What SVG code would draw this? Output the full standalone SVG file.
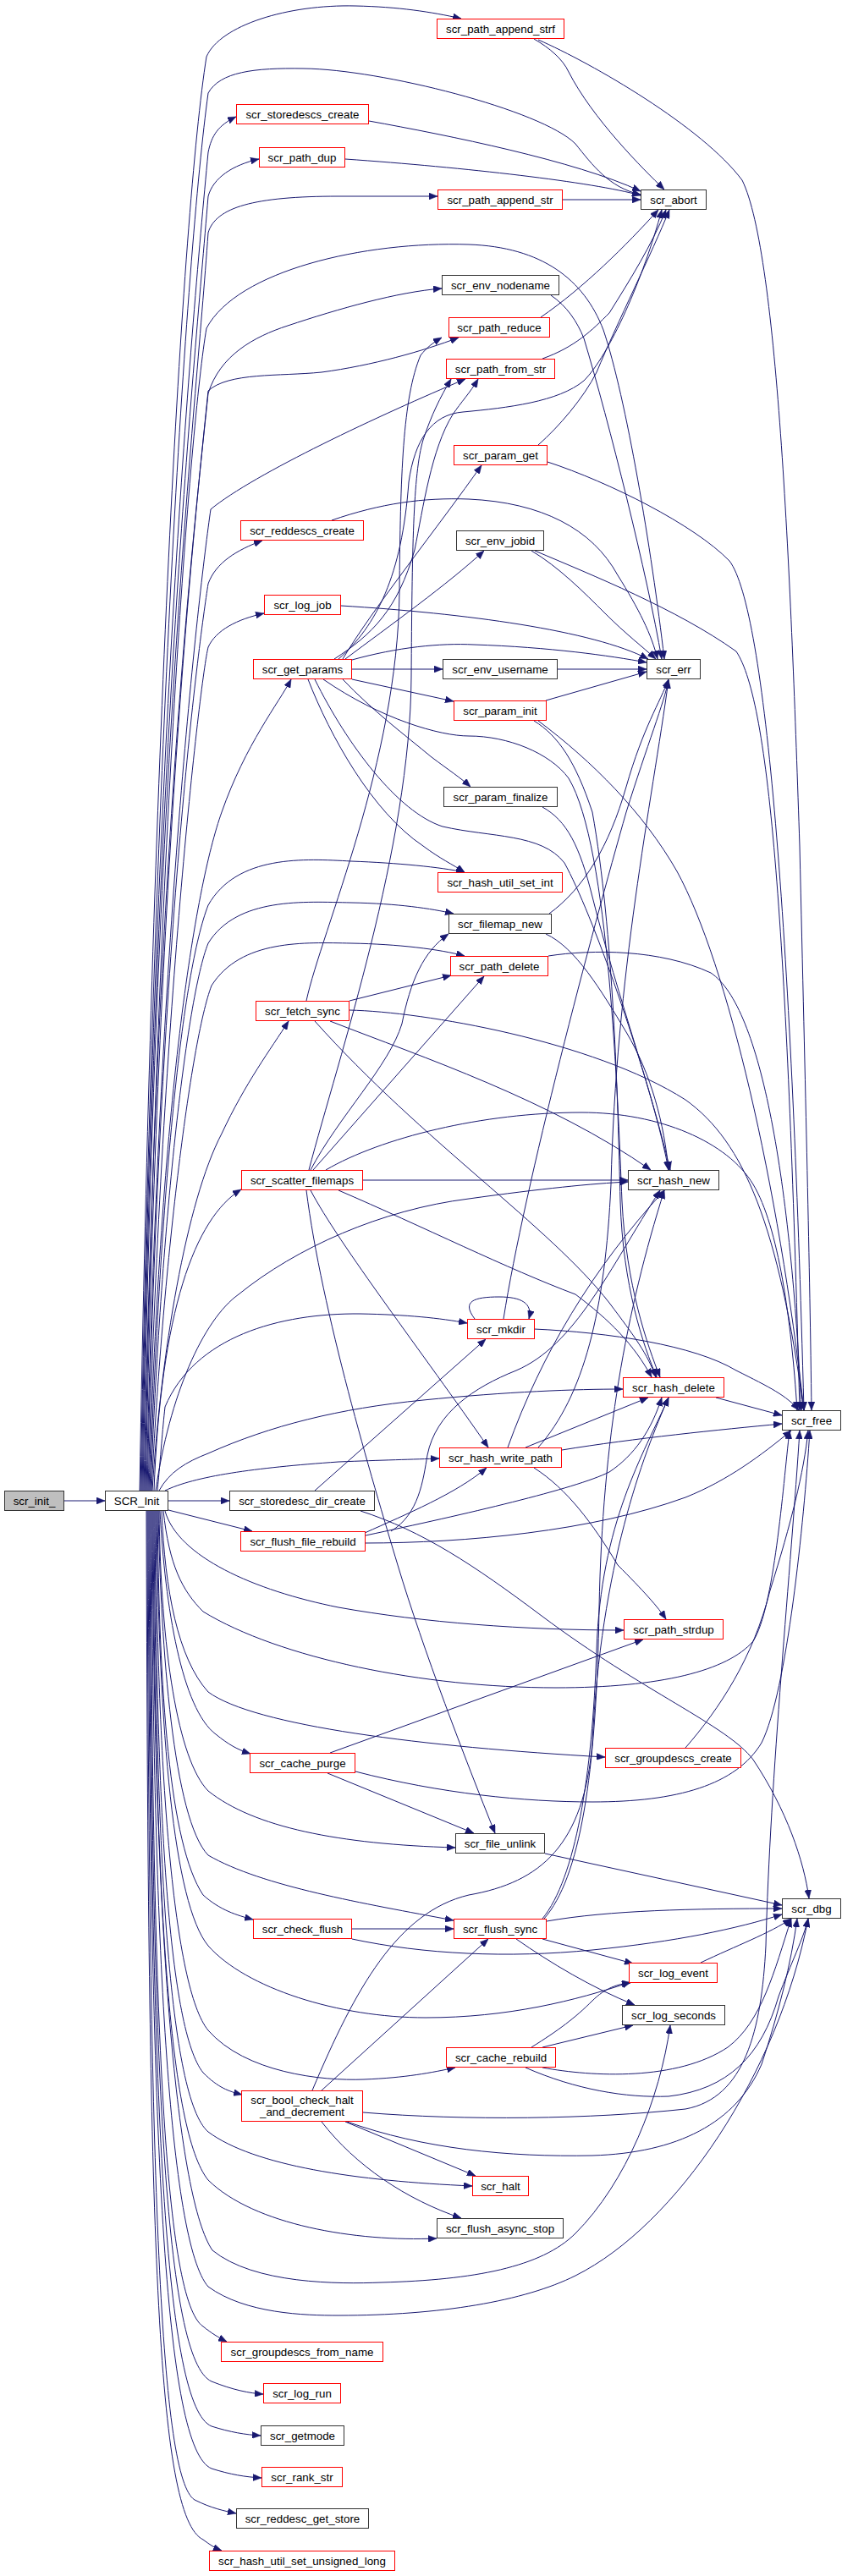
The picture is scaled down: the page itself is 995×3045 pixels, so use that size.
<svg xmlns="http://www.w3.org/2000/svg" width="995" height="3045" viewBox="0 0 995 3045">
<style>
.n rect{fill:#fff;stroke-width:1}
.r rect{stroke:#ff0000}
.b rect{stroke:#333}
.g rect{fill:#bfbfbf;stroke:#333}
text{font-family:"Liberation Sans",Arial,sans-serif;font-size:13.33px;text-anchor:middle;fill:#000}
#edges path{fill:none;stroke:#191970;stroke-width:1;marker-end:url(#a)}
</style>
<defs>
<marker id="a" markerWidth="10" markerHeight="8" refX="10" refY="4" orient="auto" markerUnits="userSpaceOnUse"><path d="M0,0 L10,4 L0,8 z" fill="#191970" stroke="#191970" stroke-width="0.5"/></marker>
</defs>
<rect width="995" height="3045" fill="#fff"/>
<g id="edges">
<path d="M76,1774 L124,1774"/>
<path d="M165,1762 C180,900 215,250 244,67 C260,30 340,5 420,7 C470,8 510,14 545,22"/>
<path d="M166,1762 C182,900 220,300 246,110 C260,85 300,80 359,81 C450,82 640,130 680,170 C700,195 720,222 757,230"/>
<path d="M167,1762 C182,900 225,400 246,180 C250,160 258,148 279,138"/>
<path d="M168,1762 C183,900 228,450 246,232 C252,210 275,195 306,188"/>
<path d="M169,1762 C184,900 230,500 246,275 C255,245 300,232 400,232 L517,232"/>
<path d="M170,1762 C185,1000 232,600 246,465 C260,420 300,398 340,385 C400,365 470,345 522,341"/>
<path d="M171,1762 C186,1000 225,500 244,388 C280,320 430,285 554,289 C640,292 690,330 713,390 C740,470 770,650 785,779"/>
<path d="M172,1762 C187,1000 232,600 246,462 C270,440 330,445 380,440 C440,432 500,415 542,399"/>
<path d="M173,1762 C188,1100 235,700 249,602 C300,560 450,490 550,448"/>
<path d="M174,1762 C189,1100 235,760 246,690 C255,665 280,650 310,639"/>
<path d="M175,1762 C190,1200 237,800 246,765 C255,745 280,732 312,725"/>
<path d="M176,1762 C190,1300 230,1050 262,960 C290,880 330,830 344,803"/>
<path d="M177,1762 C190,1400 215,1150 246,1070 C280,1010 360,1015 415,1018 C470,1020 520,1025 549,1031"/>
<path d="M178,1762 C190,1450 220,1180 246,1115 C280,1060 360,1066 415,1067 C470,1068 510,1074 536,1080"/>
<path d="M179,1762 C192,1500 225,1230 250,1165 C285,1110 360,1114 415,1115 C470,1116 520,1122 549,1130"/>
<path d="M180,1762 C190,1600 220,1420 262,1340 C290,1280 320,1240 341,1207"/>
<path d="M182,1762 C190,1550 230,1440 285,1406"/>
<path d="M184,1762 C200,1650 240,1560 282,1530 C350,1475 450,1430 554,1417 C640,1405 700,1399 742,1397"/>
<path d="M186,1762 C190,1720 192,1690 195,1663 C230,1580 330,1552 426,1553 C480,1554 520,1558 552,1564"/>
<path d="M188,1762 C200,1740 220,1728 246,1718 C320,1685 400,1665 500,1655 C600,1645 680,1642 736,1642"/>
<path d="M195,1762 C230,1745 300,1735 400,1728 C450,1726 490,1725 519,1724"/>
<path d="M199,1774 L271,1774"/>
<path d="M199,1785 L298,1810"/>
<path d="M195,1786 C210,1840 300,1880 400,1900 C500,1918 620,1927 737,1927"/>
<path d="M193,1786 C200,1850 215,1880 240,1905 C330,1960 500,1995 657,1995 C780,1995 860,1975 890,1940 C915,1900 925,1760 933,1691"/>
<path d="M191,1786 C195,1880 210,1960 246,2000 C300,2040 500,2065 715,2077"/>
<path d="M189,1786 C195,1900 215,2020 255,2050 C270,2062 280,2068 296,2073"/>
<path d="M188,1786 C190,1950 210,2080 246,2117 C300,2160 400,2180 538,2184"/>
<path d="M187,1786 C190,1950 205,2150 246,2193 C310,2230 430,2250 536,2270"/>
<path d="M186,1786 C188,2000 200,2180 240,2240 C260,2258 280,2264 299,2269"/>
<path d="M185,1786 C188,2050 205,2250 246,2300 C290,2350 400,2385 503,2385 C600,2385 680,2365 745,2343"/>
<path d="M184,1786 C186,2100 205,2350 246,2400 C290,2450 380,2460 430,2458 C480,2456 510,2450 538,2444"/>
<path d="M183,1786 C185,2150 200,2400 240,2450 C258,2468 270,2472 286,2476"/>
<path d="M182,1786 C184,2200 200,2480 246,2520 C300,2560 420,2578 558,2584"/>
<path d="M181,1786 C183,2250 200,2520 246,2577 C300,2630 420,2650 516,2646"/>
<path d="M180,1786 C182,2300 210,2600 251,2660 C300,2700 400,2700 451,2698 C560,2695 640,2680 680,2640 C740,2580 780,2480 792,2394"/>
<path d="M179,1786 C181,2300 200,2650 246,2703 C290,2735 360,2737 400,2737 C520,2737 620,2720 680,2690 C800,2630 920,2450 955,2268"/>
<path d="M178,1786 C180,2400 195,2720 240,2750 C250,2758 258,2763 268,2768"/>
<path d="M177,1786 C179,2450 195,2790 250,2815 C275,2825 295,2829 311,2830"/>
<path d="M176,1786 C178,2500 195,2845 250,2868 C272,2875 290,2878 308,2879"/>
<path d="M175,1786 C177,2550 195,2895 250,2918 C272,2925 290,2928 309,2929"/>
<path d="M174,1786 C176,2600 190,2930 230,2955 C250,2965 265,2968 279,2971"/>
<path d="M173,1786 C175,2650 185,2975 240,3002 C248,3008 254,3012 262,3015"/>
<path d="M631,46 C650,57 665,70 672,85 C700,140 760,200 785,224"/>
<path d="M636,47 C700,75 830,150 877,213 C920,300 935,700 945,1000 C952,1300 957,1500 959,1667"/>
<path d="M436,143 C530,160 680,190 757,226"/>
<path d="M408,188 C550,198 700,215 757,231"/>
<path d="M665,236 L757,236"/>
<path d="M639,375 C690,340 740,290 778,248"/>
<path d="M641,424 C680,410 700,390 720,370 C745,330 770,290 787,248"/>
<path d="M636,526 C660,505 690,470 705,440 C730,380 770,300 791,248"/>
<path d="M651,349 C670,362 682,380 690,400 C720,500 765,680 782,779"/>
<path d="M392,615 C450,595 500,588 554,590 C640,594 700,625 730,680 C755,720 770,750 777,779"/>
<path d="M628,651 C660,670 690,700 715,725 C740,750 760,765 775,779"/>
<path d="M632,651 C700,680 800,720 870,770 C910,830 930,1100 945,1667"/>
<path d="M647,546 C720,570 820,620 862,663 C905,720 935,1100 950,1667"/>
<path d="M403,716 C550,725 700,745 766,779"/>
<path d="M416,780 C470,765 520,760 560,762 C650,765 720,775 764,783"/>
<path d="M416,791 L523,791"/>
<path d="M659,791 L764,791"/>
<path d="M416,803 L536,829"/>
<path d="M645,828 L764,794"/>
<path d="M405,803 C440,840 480,870 510,895 C530,910 545,920 556,930"/>
<path d="M364,803 C390,870 440,960 500,1000 C520,1015 535,1022 549,1031"/>
<path d="M372,803 C410,880 470,960 523,977 C580,990 640,985 667,1020 C700,1080 760,1250 792,1383"/>
<path d="M382,803 C450,850 520,870 554,870 C600,870 650,890 672,920 C720,1000 730,1300 735,1420 C740,1520 765,1590 780,1628"/>
<path d="M405,779 C440,720 520,620 569,550"/>
<path d="M408,779 C460,740 530,690 572,651"/>
<path d="M395,779 C440,750 470,720 490,650 C500,600 510,530 535,490 C545,475 555,465 565,448"/>
<path d="M400,779 C445,740 475,680 483,570 C490,520 510,490 547,487 C600,482 660,475 690,450 C720,420 760,330 782,248"/>
<path d="M362,1183 C380,1100 470,900 472,700 C473,560 476,470 497,420 C505,410 512,405 522,399"/>
<path d="M365,1383 C400,1250 485,1000 486,800 C487,650 488,560 500,520 C510,490 520,470 533,448"/>
<path d="M413,1183 L533,1153"/>
<path d="M390,1207 C500,1250 650,1300 769,1383"/>
<path d="M372,1207 C500,1350 650,1450 720,1540 C750,1580 765,1600 775,1628"/>
<path d="M413,1194 C500,1196 700,1230 810,1300 C880,1350 920,1450 950,1667"/>
<path d="M370,1383 L572,1154"/>
<path d="M367,1383 C400,1320 460,1260 475,1210 C485,1160 500,1125 530,1104"/>
<path d="M429,1395 L742,1395"/>
<path d="M385,1383 C450,1345 570,1315 687,1315 C780,1315 860,1350 890,1400 C920,1450 935,1560 942,1667"/>
<path d="M400,1407 C500,1450 600,1500 680,1530 C720,1560 750,1590 770,1628"/>
<path d="M367,1407 C400,1470 500,1600 577,1711"/>
<path d="M362,1407 C380,1550 440,1750 470,1850 C500,1950 550,2080 585,2167"/>
<path d="M649,1080 C690,1050 720,1000 740,930 C760,860 780,830 790,803"/>
<path d="M645,1104 C680,1120 710,1170 740,1220 C770,1270 785,1330 790,1383"/>
<path d="M631,852 C660,870 680,900 700,960 C725,1100 730,1300 733,1420 C736,1520 760,1590 776,1628"/>
<path d="M636,852 C700,900 760,960 800,1030 C860,1140 920,1400 950,1667"/>
<path d="M641,954 C670,970 685,1000 700,1060 C730,1180 775,1300 790,1383"/>
<path d="M648,1130 C700,1122 780,1122 840,1150 C900,1190 935,1400 947,1667"/>
<path d="M561,1559 C545,1538 560,1533 590,1533 C615,1533 630,1540 625,1559"/>
<path d="M595,1559 C620,1400 700,1100 740,960 C765,880 785,830 790,804"/>
<path d="M631,1571 C720,1575 820,1590 870,1620 C910,1640 930,1650 944,1667"/>
<path d="M846,1652 L924,1673"/>
<path d="M664,1714 C750,1700 850,1690 924,1683"/>
<path d="M621,1711 L766,1652"/>
<path d="M600,1711 C640,1600 700,1500 785,1407"/>
<path d="M636,1711 C690,1650 715,1550 722,1400 C728,1150 770,950 790,804"/>
<path d="M631,1735 C670,1760 700,1800 730,1850 C760,1880 778,1900 787,1914"/>
<path d="M431,1812 C480,1790 540,1765 575,1735"/>
<path d="M432,1815 C550,1790 680,1760 720,1740 C750,1720 770,1690 782,1652"/>
<path d="M462,1810 C495,1790 500,1750 505,1720 C515,1670 560,1640 610,1620 C680,1590 720,1500 780,1407"/>
<path d="M431,1824 C550,1824 700,1810 810,1770 C860,1750 900,1720 935,1691"/>
<path d="M372,1762 L574,1583"/>
<path d="M426,1786 C500,1810 560,1850 640,1910 C760,2000 860,2040 890,2080 C930,2140 950,2200 956,2244"/>
<path d="M390,2072 L760,1938"/>
<path d="M387,2096 L560,2167"/>
<path d="M420,2094 C520,2120 620,2130 700,2130 C800,2130 870,2110 900,2060 C930,2000 950,1800 957,1691"/>
<path d="M810,2066 C850,2020 890,1960 910,1880 C935,1800 950,1740 955,1691"/>
<path d="M644,2191 L924,2252"/>
<path d="M646,2271 C720,2258 820,2256 924,2256"/>
<path d="M416,2280 L536,2280"/>
<path d="M416,2292 C500,2310 600,2315 700,2305 C800,2295 870,2280 924,2263"/>
<path d="M641,2292 L748,2321"/>
<path d="M610,2292 C650,2320 700,2350 750,2370"/>
<path d="M641,2268 C680,2220 700,2100 705,1950 C710,1800 760,1720 790,1652"/>
<path d="M643,2268 C685,2220 705,2100 708,1900 C712,1700 740,1550 785,1407"/>
<path d="M828,2320 C870,2300 910,2285 935,2268"/>
<path d="M628,2420 C660,2400 680,2385 700,2365 C715,2350 730,2345 745,2344"/>
<path d="M641,2420 L748,2394"/>
<path d="M641,2444 C700,2455 800,2460 860,2420 C900,2390 915,2330 935,2268"/>
<path d="M621,2444 C680,2470 740,2480 790,2478 C860,2470 900,2430 920,2360 C935,2320 950,2290 955,2268"/>
<path d="M380,2471 L577,2292"/>
<path d="M369,2471 C420,2350 470,2260 554,2240 C640,2225 690,2180 700,2060 C710,1850 760,1720 790,1652"/>
<path d="M408,2508 L562,2572"/>
<path d="M380,2508 C420,2560 480,2600 545,2622"/>
<path d="M429,2497 C550,2507 700,2505 810,2493 C880,2480 900,2400 905,2300 C910,2100 935,1850 945,1691"/>
<path d="M410,2508 C500,2540 600,2550 700,2548 C800,2545 870,2510 900,2440 C920,2380 935,2320 942,2268"/>
</g>
<g id="n_init" class="n g"><rect x="5.5" y="1762.5" width="70" height="23"/><text x="40.5" y="1778.5">scr_init_</text></g>
<g id="n_SCR" class="n b"><rect x="124.5" y="1762.5" width="74" height="23"/><text x="161.5" y="1778.5">SCR_Init</text></g>
<g id="n_strf" class="n r"><rect x="516.5" y="22.5" width="150" height="23"/><text x="591.5" y="38.5">scr_path_append_strf</text></g>
<g id="n_storedescs" class="n r"><rect x="279.5" y="123.5" width="156" height="23"/><text x="357.5" y="139.5">scr_storedescs_create</text></g>
<g id="n_pathdup" class="n r"><rect x="306.5" y="174.5" width="101" height="23"/><text x="357" y="190.5">scr_path_dup</text></g>
<g id="n_appendstr" class="n r"><rect x="517.5" y="224.5" width="147" height="23"/><text x="591" y="240.5">scr_path_append_str</text></g>
<g id="n_abort" class="n b"><rect x="757.5" y="224.5" width="77" height="23"/><text x="796" y="240.5">scr_abort</text></g>
<g id="n_nodename" class="n b"><rect x="522.5" y="325.5" width="138" height="23"/><text x="591.5" y="341.5">scr_env_nodename</text></g>
<g id="n_reduce" class="n r"><rect x="530.5" y="375.5" width="119" height="23"/><text x="590" y="391.5">scr_path_reduce</text></g>
<g id="n_fromstr" class="n r"><rect x="527.5" y="424.5" width="128" height="23"/><text x="591.5" y="440.5">scr_path_from_str</text></g>
<g id="n_paramget" class="n r"><rect x="536.5" y="526.5" width="110" height="23"/><text x="591.5" y="542.5">scr_param_get</text></g>
<g id="n_reddescs" class="n r"><rect x="284.5" y="615.5" width="145" height="23"/><text x="357" y="631.5">scr_reddescs_create</text></g>
<g id="n_jobid" class="n b"><rect x="539.5" y="627.5" width="103" height="23"/><text x="591" y="643.5">scr_env_jobid</text></g>
<g id="n_logjob" class="n r"><rect x="312.5" y="703.5" width="90" height="23"/><text x="357.5" y="719.5">scr_log_job</text></g>
<g id="n_getparams" class="n r"><rect x="299.5" y="779.5" width="116" height="23"/><text x="357.5" y="795.5">scr_get_params</text></g>
<g id="n_username" class="n b"><rect x="523.5" y="779.5" width="135" height="23"/><text x="591" y="795.5">scr_env_username</text></g>
<g id="n_err" class="n b"><rect x="764.5" y="779.5" width="63" height="23"/><text x="796" y="795.5">scr_err</text></g>
<g id="n_paraminit" class="n r"><rect x="536.5" y="828.5" width="109" height="23"/><text x="591" y="844.5">scr_param_init</text></g>
<g id="n_finalize" class="n b"><rect x="524.5" y="930.5" width="134" height="23"/><text x="591.5" y="946.5">scr_param_finalize</text></g>
<g id="n_setint" class="n r"><rect x="517.5" y="1031.5" width="147" height="23"/><text x="591" y="1047.5">scr_hash_util_set_int</text></g>
<g id="n_filemapnew" class="n b"><rect x="530.5" y="1080.5" width="121" height="23"/><text x="591" y="1096.5">scr_filemap_new</text></g>
<g id="n_pathdelete" class="n r"><rect x="532.5" y="1130.5" width="115" height="23"/><text x="590" y="1146.5">scr_path_delete</text></g>
<g id="n_fetchsync" class="n r"><rect x="302.5" y="1183.5" width="110" height="23"/><text x="357.5" y="1199.5">scr_fetch_sync</text></g>
<g id="n_scatter" class="n r"><rect x="285.5" y="1383.5" width="143" height="23"/><text x="357" y="1399.5">scr_scatter_filemaps</text></g>
<g id="n_hashnew" class="n b"><rect x="742.5" y="1383.5" width="107" height="23"/><text x="796" y="1399.5">scr_hash_new</text></g>
<g id="n_mkdir" class="n r"><rect x="552.5" y="1559.5" width="79" height="23"/><text x="592" y="1575.5">scr_mkdir</text></g>
<g id="n_hashdelete" class="n r"><rect x="736.5" y="1628.5" width="119" height="23"/><text x="796" y="1644.5">scr_hash_delete</text></g>
<g id="n_free" class="n b"><rect x="924.5" y="1667.5" width="69" height="23"/><text x="959" y="1683.5">scr_free</text></g>
<g id="n_writepath" class="n r"><rect x="519.5" y="1711.5" width="144" height="23"/><text x="591.5" y="1727.5">scr_hash_write_path</text></g>
<g id="n_sddircreate" class="n b"><rect x="271.5" y="1762.5" width="171" height="23"/><text x="357" y="1778.5">scr_storedesc_dir_create</text></g>
<g id="n_ffrebuild" class="n r"><rect x="284.5" y="1810.5" width="147" height="23"/><text x="358" y="1826.5">scr_flush_file_rebuild</text></g>
<g id="n_strdup" class="n r"><rect x="737.5" y="1914.5" width="117" height="23"/><text x="796" y="1930.5">scr_path_strdup</text></g>
<g id="n_gdcreate" class="n r"><rect x="715.5" y="2066.5" width="160" height="23"/><text x="795.5" y="2082.5">scr_groupdescs_create</text></g>
<g id="n_cachepurge" class="n r"><rect x="295.5" y="2072.5" width="124" height="23"/><text x="357.5" y="2088.5">scr_cache_purge</text></g>
<g id="n_unlink" class="n b"><rect x="538.5" y="2167.5" width="105" height="23"/><text x="591" y="2183.5">scr_file_unlink</text></g>
<g id="n_dbg" class="n b"><rect x="924.5" y="2244.5" width="69" height="23"/><text x="959" y="2260.5">scr_dbg</text></g>
<g id="n_checkflush" class="n r"><rect x="299.5" y="2268.5" width="116" height="23"/><text x="357.5" y="2284.5">scr_check_flush</text></g>
<g id="n_flushsync" class="n r"><rect x="536.5" y="2268.5" width="109" height="23"/><text x="591" y="2284.5">scr_flush_sync</text></g>
<g id="n_logevent" class="n r"><rect x="743.5" y="2320.5" width="104" height="23"/><text x="795.5" y="2336.5">scr_log_event</text></g>
<g id="n_logseconds" class="n b"><rect x="735.5" y="2370.5" width="121" height="23"/><text x="796" y="2386.5">scr_log_seconds</text></g>
<g id="n_cacherebuild" class="n r"><rect x="527.5" y="2420.5" width="129" height="23"/><text x="592" y="2436.5">scr_cache_rebuild</text></g>
<g id="n_boolcheck" class="n r"><rect x="285.5" y="2471.5" width="143" height="36"/><text x="357" y="2487">scr_bool_check_halt</text><text x="357" y="2501">_and_decrement</text></g>
<g id="n_halt" class="n r"><rect x="558.5" y="2572.5" width="66" height="23"/><text x="591.5" y="2588.5">scr_halt</text></g>
<g id="n_asyncstop" class="n b"><rect x="516.5" y="2622.5" width="149" height="23"/><text x="591" y="2638.5">scr_flush_async_stop</text></g>
<g id="n_gdfromname" class="n r"><rect x="261.5" y="2768.5" width="191" height="23"/><text x="357" y="2784.5">scr_groupdescs_from_name</text></g>
<g id="n_logrun" class="n r"><rect x="311.5" y="2817.5" width="91" height="23"/><text x="357" y="2833.5">scr_log_run</text></g>
<g id="n_getmode" class="n b"><rect x="308.5" y="2867.5" width="98" height="23"/><text x="357.5" y="2883.5">scr_getmode</text></g>
<g id="n_rankstr" class="n r"><rect x="309.5" y="2916.5" width="95" height="23"/><text x="357" y="2932.5">scr_rank_str</text></g>
<g id="n_rdgetstore" class="n b"><rect x="279.5" y="2965.5" width="156" height="23"/><text x="357.5" y="2981.5">scr_reddesc_get_store</text></g>
<g id="n_setulong" class="n r"><rect x="247.5" y="3015.5" width="219" height="23"/><text x="357" y="3031.5">scr_hash_util_set_unsigned_long</text></g>
</svg>
